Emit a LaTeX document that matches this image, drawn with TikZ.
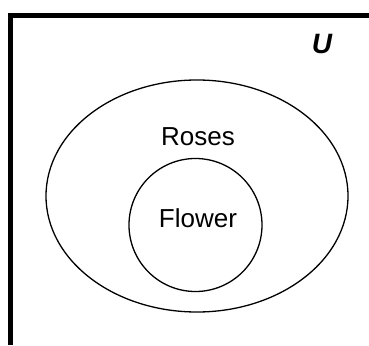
\documentclass[tikz,border=0pt]{standalone}
\usepackage{fontspec}
\setmainfont{Liberation Sans}
\usetikzlibrary{shapes.geometric}
\begin{document}
\begin{tikzpicture}[x=1pt,y=1pt,
  setline/.style={draw=black, line width=1.3pt},
  label/.style={font=\fontsize{26}{30}\selectfont, text=black, inner sep=0pt},
  frameline/.style={line width=5pt, line cap=butt}]
\useasboundingbox (0,0) rectangle (369,-345);
\draw[frameline] (10.5,-345) -- (10.5,-15.5) -- (369,-15.5);
\node[setline, ellipse, minimum width=302pt, minimum height=232pt, inner sep=0pt] (roses) at (197,-196) {};
\node[setline, circle, minimum size=133pt, inner sep=0pt] (flower) at (195.5,-225) {};
\node[label] (rosestext) at (198,-137) {Roses};
\node[label] (flowertext) at (198,-218) {Flower};
\node[label, font=\fontsize{28}{32}\selectfont\bfseries\itshape] (utext) at (322,-44) {U};
\end{tikzpicture}
\end{document}
